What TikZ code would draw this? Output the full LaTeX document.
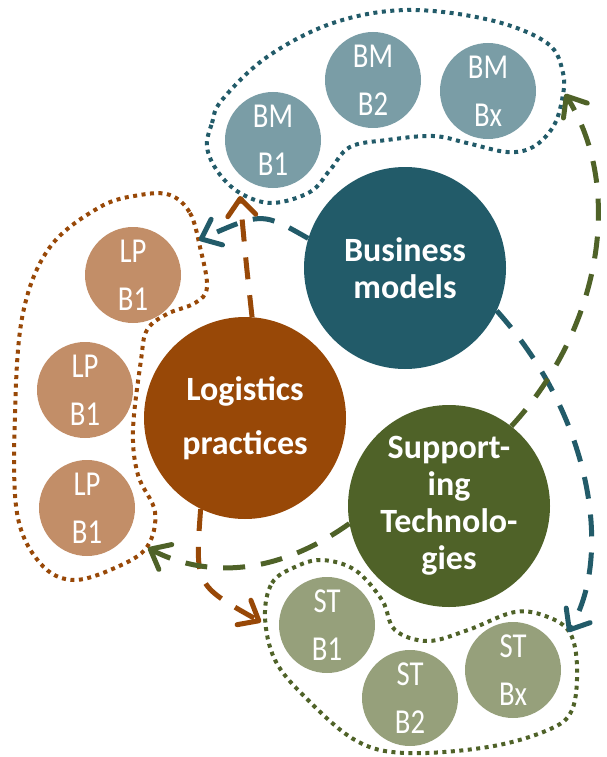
\documentclass[tikz,border=0pt]{standalone}
\usepackage{fontspec}
\setmainfont{Carlito}
\newfontfamily\slimfont[FakeStretch=0.82]{Carlito}
\usepackage{tikz}
\usetikzlibrary{arrows.meta}

\definecolor{bmdark}{HTML}{225B69}
\definecolor{bmlight}{HTML}{7A9DA6}
\definecolor{lpdark}{HTML}{984807}
\definecolor{lplight}{HTML}{C28E68}
\definecolor{stdark}{HTML}{4F6228}
\definecolor{stlight}{HTML}{96A07B}

\tikzset{
  bigcirc/.style={circle, inner sep=0pt, minimum size=202pt, text=white, align=center,
    font=\bfseries\fontsize{34}{37}\selectfont},
  smallcirc/.style={circle, inner sep=0pt, minimum size=96pt, text=white, align=center,
    font=\slimfont\fontsize{35}{48}\selectfont},
  grp/.style={line width=4pt, dash pattern=on 4pt off 4.5pt},
  link/.style={line width=5pt, dash pattern=on 22pt off 16pt,
    -{Straight Barb[length=17pt, width=28pt, line cap=round, line join=round]}},
}

\begin{document}
\begin{tikzpicture}[x=1pt, y=-1pt]
            % \draw[help lines, step=50] (0,0) grid (606,757);
            \useasboundingbox (0,0) rectangle (606,757);

            % groups
            \draw[grp, bmdark] plot[smooth cycle, tension=0.6] coordinates {(207,147) (212,123) (222,100) (267,57) (333,23) (407,10) (490,20) (547,43) (563,73) (562,100) (553,127) (533,147) (507,152) (467,143) (433,136) (387,140) (350,147) (330,170) (310,192) (272,203) (240,193) (218,172)};
            \draw[grp, lpdark] plot[smooth cycle, tension=0.6] coordinates {(170,195) (190,213) (200,247) (207,287) (195,303) (167,314) (147,330) (141,360) (133,430) (138,475) (155,512) (147,547) (117,567) (73,580) (40,563) (17,513) (15,413) (23,313) (50,247) (100,207) (140,195)};
            \draw[grp, stdark] plot[smooth cycle, tension=0.6] coordinates {(265,617) (272,583) (295,567) (322,560) (355,570) (382,600) (395,630) (428,641) (468,630) (515,612) (548,617) (570,633) (577,667) (572,710) (548,730) (488,747) (405,753) (355,740) (305,697) (275,660)};

            \coordinate (bmgrp-a) at (240,196);
            \coordinate (bmgrp-b) at (565,94);
            \coordinate (lpgrp-a) at (199,240);
            \coordinate (lpgrp-b) at (148,548);
            \coordinate (stgrp-a) at (261,622);
            \coordinate (stgrp-b) at (568,632);

            \node[bigcirc, fill=bmdark] (bm) at (405,268) {Business\\models};
            \node[bigcirc, fill=lpdark, font=\bfseries\fontsize{34}{54}\selectfont] (lp) at (245,418) {Logistics\\practices};
            \node[bigcirc, fill=stdark] (st) at (449,506) {Support-\\ing\\Technolo-\\gies};

            \node[smallcirc, fill=bmlight] (bmb1) at (273,140) {BM\\B1};
            \node[smallcirc, fill=bmlight] (bmb2) at (373,80) {BM\\B2};
            \node[smallcirc, fill=bmlight] (bmbx) at (488,91) {BM\\Bx};
            \node[smallcirc, fill=lplight] (lpb1) at (133,275) {LP\\B1};
            \node[smallcirc, fill=lplight] (lpb2) at (85,390) {LP\\B1};
            \node[smallcirc, fill=lplight] (lpb3) at (87,508) {LP\\B1};
            \node[smallcirc, fill=stlight] (stb1) at (327,625) {ST\\B1};
            \node[smallcirc, fill=stlight] (stb2) at (410,698) {ST\\B2};
            \node[smallcirc, fill=stlight] (stbx) at (513,670) {ST\\Bx};

            % links
            \draw[link, bmdark] (bm.163) .. controls (262,212) .. (lpgrp-a);
            \draw[link, bmdark] (bm.-25) .. controls (595,420) and (612,560) .. (stgrp-b);
            \draw[link, lpdark] (lp.86) .. controls (246,262) .. (bmgrp-a);
            \draw[link, lpdark] (lp.-116) .. controls (195,585) .. (stgrp-a);
            \draw[link, stdark] (st.52) .. controls (600,330) and (625,190) .. (bmgrp-b);
            \draw[link, stdark] (st.190) .. controls (270,580) and (200,575) .. (lpgrp-b);
        \end{tikzpicture}
\end{document}
